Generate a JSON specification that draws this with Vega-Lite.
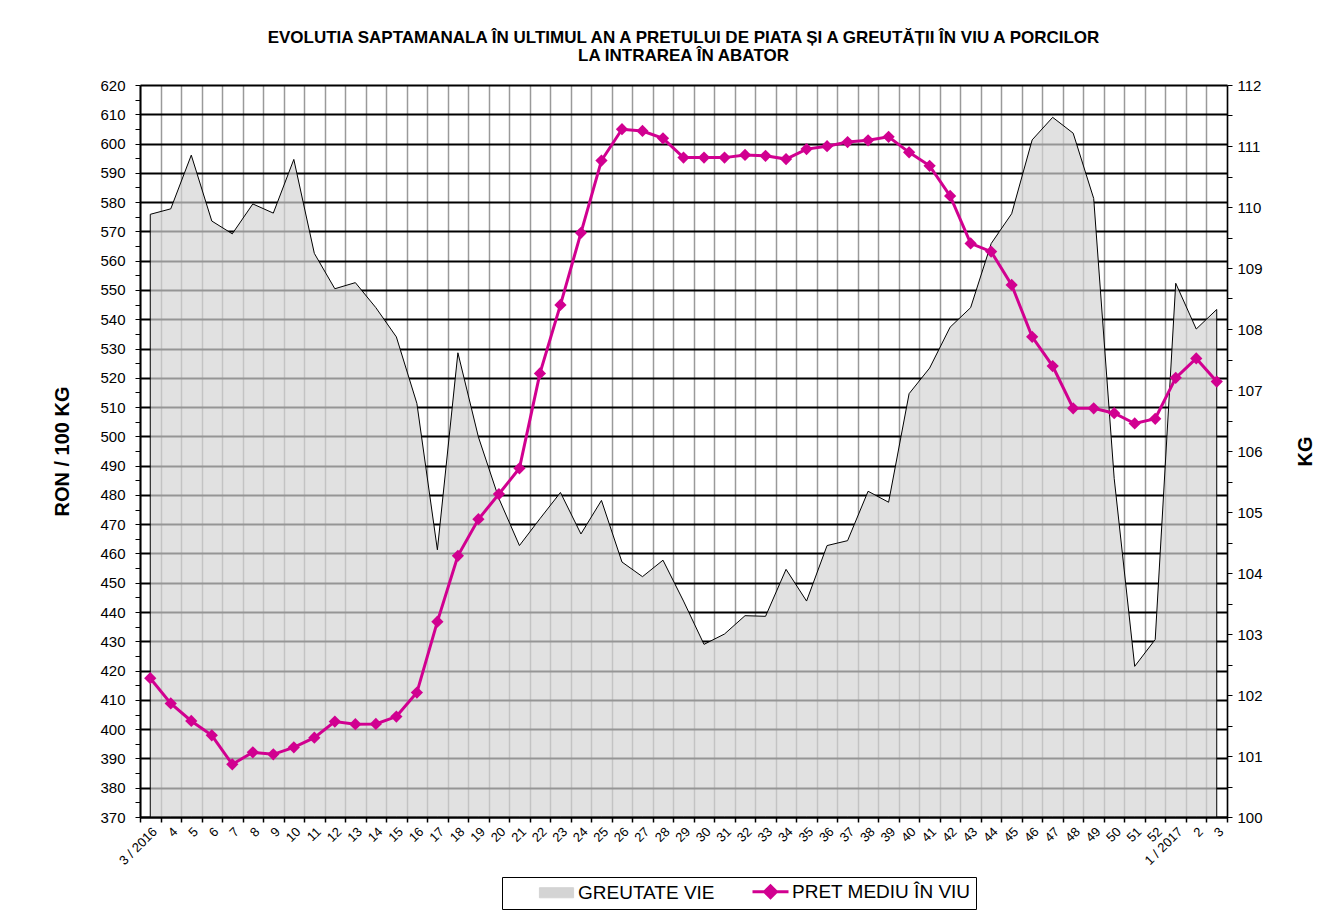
{
  "$schema": "https://vega.github.io/schema/vega-lite/v6.json",
  "width": 1087,
  "height": 732,
  "autosize": "none",
  "padding": {"left": 140, "top": 85, "right": 111, "bottom": 96},
  "background": "white",
  "title": {
    "text": ["EVOLUTIA SAPTAMANALA ÎN ULTIMUL AN A PRETULUI  DE PIATA ȘI A GREUTĂȚII  ÎN VIU A PORCILOR", "LA INTRAREA ÎN ABATOR"],
    "font": "Liberation Sans",
    "fontSize": 17,
    "fontWeight": "bold",
    "lineHeight": 18,
    "color": "#000",
    "anchor": "middle",
    "offset": 13
  },
  "data": {
    "values": [
      {"w": "3 / 2016", "price": 417.4, "kg": 109.88},
      {"w": "4", "price": 408.8, "kg": 109.97},
      {"w": "5", "price": 402.8, "kg": 110.85},
      {"w": "6", "price": 397.9, "kg": 109.77},
      {"w": "7", "price": 388.0, "kg": 109.56},
      {"w": "8", "price": 392.1, "kg": 110.05},
      {"w": "9", "price": 391.4, "kg": 109.90},
      {"w": "10", "price": 393.8, "kg": 110.78},
      {"w": "11", "price": 397.1, "kg": 109.24},
      {"w": "12", "price": 402.6, "kg": 108.66},
      {"w": "13", "price": 401.7, "kg": 108.76},
      {"w": "14", "price": 401.8, "kg": 108.35},
      {"w": "15", "price": 404.3, "kg": 107.87},
      {"w": "16", "price": 412.5, "kg": 106.78},
      {"w": "17", "price": 436.7, "kg": 104.38},
      {"w": "18", "price": 459.2, "kg": 107.61},
      {"w": "19", "price": 471.7, "kg": 106.23},
      {"w": "20", "price": 480.3, "kg": 105.22},
      {"w": "21", "price": 489.1, "kg": 104.45},
      {"w": "22", "price": 521.5, "kg": 104.89},
      {"w": "23", "price": 544.9, "kg": 105.32},
      {"w": "24", "price": 569.5, "kg": 104.64},
      {"w": "25", "price": 594.2, "kg": 105.19},
      {"w": "26", "price": 604.9, "kg": 104.18},
      {"w": "27", "price": 604.3, "kg": 103.94},
      {"w": "28", "price": 601.8, "kg": 104.21},
      {"w": "29", "price": 595.2, "kg": 103.54},
      {"w": "30", "price": 595.2, "kg": 102.83},
      {"w": "31", "price": 595.2, "kg": 103.00},
      {"w": "32", "price": 596.1, "kg": 103.30},
      {"w": "33", "price": 595.8, "kg": 103.29},
      {"w": "34", "price": 594.7, "kg": 104.06},
      {"w": "35", "price": 598.1, "kg": 103.54},
      {"w": "36", "price": 599.1, "kg": 104.45},
      {"w": "37", "price": 600.5, "kg": 104.53},
      {"w": "38", "price": 601.1, "kg": 105.34},
      {"w": "39", "price": 602.3, "kg": 105.16},
      {"w": "40", "price": 597.0, "kg": 106.94},
      {"w": "41", "price": 592.4, "kg": 107.36},
      {"w": "42", "price": 582.1, "kg": 108.03},
      {"w": "43", "price": 565.9, "kg": 108.35},
      {"w": "44", "price": 563.1, "kg": 109.40},
      {"w": "45", "price": 551.7, "kg": 109.89},
      {"w": "46", "price": 534.0, "kg": 111.10},
      {"w": "47", "price": 524.0, "kg": 111.47},
      {"w": "48", "price": 509.6, "kg": 111.21},
      {"w": "49", "price": 509.6, "kg": 110.14},
      {"w": "50", "price": 507.9, "kg": 105.55},
      {"w": "51", "price": 504.4, "kg": 102.47},
      {"w": "52", "price": 506.0, "kg": 102.91},
      {"w": "1 / 2017", "price": 520.0, "kg": 108.75},
      {"w": "2", "price": 526.6, "kg": 108.0},
      {"w": "3", "price": 518.7, "kg": 108.32}
    ]
  },
  "encoding": {
    "x": {
      "field": "w",
      "type": "ordinal",
      "sort": null,
      "bandPosition": 0.5,
      "scale": {"type": "band", "paddingInner": 0, "paddingOuter": 0},
      "axis": {
        "title": null,
        "labelAngle": -45,
        "labelFontSize": 13,
        "labelColor": "#000",
        "labelPadding": 3,
        "tickBand": "extent",
        "tickSize": 5,
        "tickColor": "#000",
        "tickWidth": 1.5,
        "domainColor": "#000",
        "domainWidth": 2,
        "grid": true,
        "gridColor": "#9a9a9a",
        "gridWidth": 1.5,
        "labelOverlap": false
      }
    }
  },
  "layer": [
    {
      "mark": {"type": "area", "interpolate": "linear", "fillOpacity": 0.7, "stroke": "#000", "strokeWidth": 1},
      "encoding": {
        "y": {
          "field": "kg",
          "type": "quantitative",
          "scale": {"domain": [100, 112], "nice": false, "zero": false, "clamp": true},
          "axis": {
            "orient": "right",
            "title": "KG",
            "titleFontSize": 20,
            "titleFontWeight": "bold",
            "titleColor": "#000",
            "titleAngle": -90,
            "titlePadding": 53,
            "values": [100, 100.5, 101, 101.5, 102, 102.5, 103, 103.5, 104, 104.5, 105, 105.5, 106, 106.5, 107, 107.5, 108, 108.5, 109, 109.5, 110, 110.5, 111, 111.5, 112],
            "labelExpr": "datum.value % 1 === 0 ? format(datum.value, 'd') : ''",
            "labelFontSize": 15,
            "labelColor": "#000",
            "labelPadding": 5,
            "labelOverlap": false,
            "tickSize": 5,
            "tickColor": "#000",
            "domainColor": "#000",
            "domainWidth": 1.5,
            "grid": false
          }
        },
        "color": {
          "datum": "GREUTATE VIE",
          "type": "nominal",
          "scale": {"domain": ["GREUTATE VIE", "PRET MEDIU ÎN VIU"], "range": ["#d4d4d4", "#d10090"]},
          "legend": {
            "title": "\u00a0",
            "titleOrient": "left",
            "titleFontSize": 18,
            "titlePadding": 40,
            "orient": "none",
            "legendX": 362,
            "legendY": 792,
            "direction": "horizontal",
            "columns": 2,
            "strokeColor": "#000",
            "fillColor": "#fff",
            "padding": 5,
            "labelFontSize": 19,
            "labelColor": "#000",
            "labelOffset": 12,
            "labelLimit": 400,
            "columnPadding": 31,
            "symbolSize": 1296,
            "encode": {
              "labels": {
                "update": {
                  "text": {"signal": "indexof(datum.label, 'PRET') >= 0 ? datum.label + '\u2003' : datum.label"}
                }
              },
              "symbols": {
                "update": {
                  "size": {"value": 1296},
                  "shape": {"signal": "datum.value == 'GREUTATE VIE' ? 'M-0.95,-0.28H0.95V0.28H-0.95Z' : 'M-1,0H1M-0.33,0L0,-0.33L0.33,0L0,0.33Z'"},
                  "fill": {"signal": "datum.value == 'GREUTATE VIE' ? '#e3e3e3' : '#d10090'"},
                  "stroke": {"signal": "datum.value == 'GREUTATE VIE' ? '#404040' : '#d10090'"},
                  "strokeWidth": {"signal": "datum.value == 'GREUTATE VIE' ? 1 : 3"},
                  "strokeOpacity": {"value": 1}
                }
              }
            }
          }
        }
      }
    },
    {
      "mark": {"type": "line", "strokeWidth": 3, "point": {"shape": "diamond", "size": 150, "filled": true}},
      "encoding": {
        "y": {
          "field": "price",
          "type": "quantitative",
          "scale": {"domain": [370, 620], "nice": false, "zero": false},
          "axis": {
            "orient": "left",
            "title": "RON / 100 KG",
            "titleFontSize": 20,
            "titleFontWeight": "bold",
            "titleColor": "#000",
            "titlePadding": 27,
            "values": [370, 375, 380, 385, 390, 395, 400, 405, 410, 415, 420, 425, 430, 435, 440, 445, 450, 455, 460, 465, 470, 475, 480, 485, 490, 495, 500, 505, 510, 515, 520, 525, 530, 535, 540, 545, 550, 555, 560, 565, 570, 575, 580, 585, 590, 595, 600, 605, 610, 615, 620],
            "labelExpr": "datum.value % 10 === 0 ? datum.label : ''",
            "labelFontSize": 15,
            "labelColor": "#000",
            "labelPadding": 10,
            "labelOverlap": false,
            "tickSize": 5,
            "tickColor": "#000",
            "domainColor": "#000",
            "domainWidth": 2,
            "grid": true,
            "gridColor": "#000",
            "gridWidth": 2,
            "gridOpacity": {"expr": "datum.value % 10 === 0 ? 1 : 0"}
          }
        },
        "color": {
          "datum": "PRET MEDIU ÎN VIU",
          "type": "nominal",
          "legend": {
            "title": "\u00a0",
            "titleOrient": "left",
            "titleFontSize": 18,
            "titlePadding": 40,
            "orient": "none",
            "legendX": 362,
            "legendY": 792,
            "direction": "horizontal",
            "columns": 2,
            "strokeColor": "#000",
            "fillColor": "#fff",
            "padding": 5,
            "labelFontSize": 19,
            "labelColor": "#000",
            "labelOffset": 12,
            "labelLimit": 400,
            "columnPadding": 31,
            "symbolSize": 1296,
            "encode": {
              "labels": {
                "update": {
                  "text": {"signal": "indexof(datum.label, 'PRET') >= 0 ? datum.label + '\u2003' : datum.label"}
                }
              },
              "symbols": {
                "update": {
                  "size": {"value": 1296},
                  "shape": {"signal": "datum.value == 'GREUTATE VIE' ? 'M-0.95,-0.28H0.95V0.28H-0.95Z' : 'M-1,0H1M-0.33,0L0,-0.33L0.33,0L0,0.33Z'"},
                  "fill": {"signal": "datum.value == 'GREUTATE VIE' ? '#e3e3e3' : '#d10090'"},
                  "stroke": {"signal": "datum.value == 'GREUTATE VIE' ? '#404040' : '#d10090'"},
                  "strokeWidth": {"signal": "datum.value == 'GREUTATE VIE' ? 1 : 3"},
                  "strokeOpacity": {"value": 1}
                }
              }
            }
          }
        }
      }
    }
  ],
  "resolve": {"scale": {"y": "independent"}},
  "config": {
    "font": "Liberation Sans",
    "view": {"stroke": null}
  }
}
